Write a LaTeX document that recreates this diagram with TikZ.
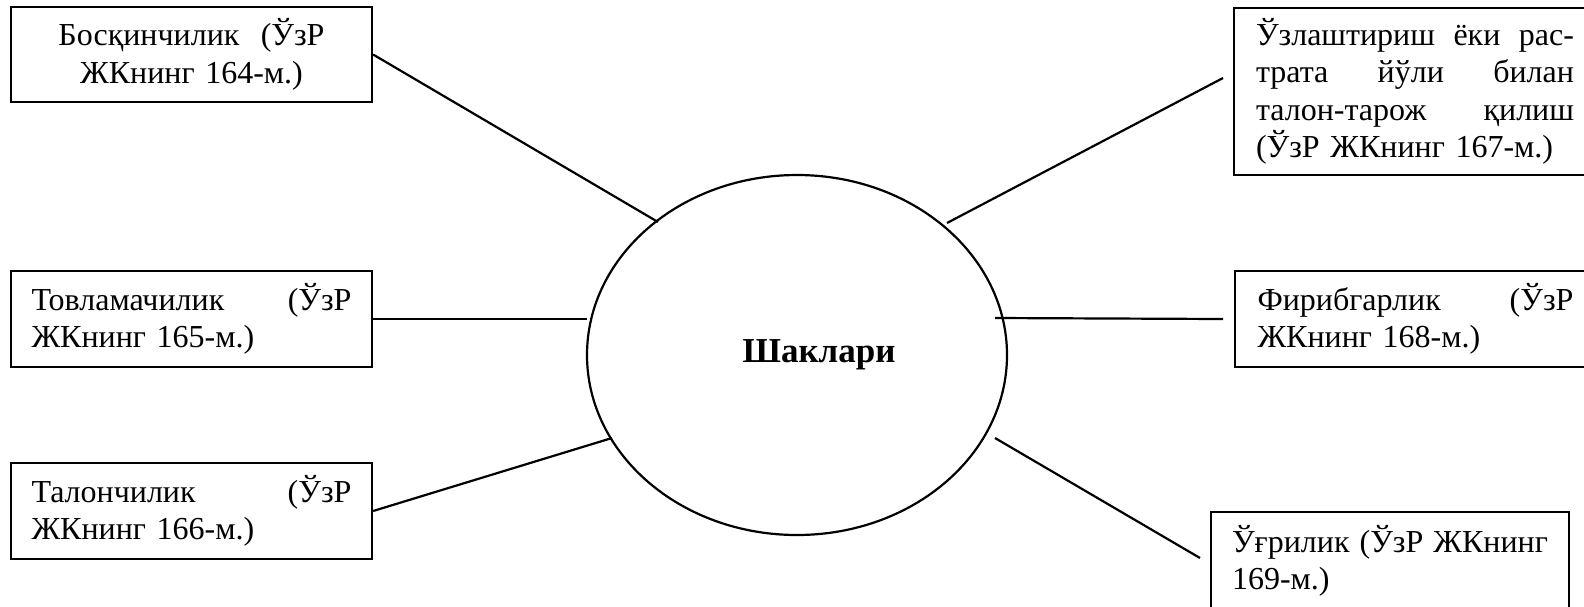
\documentclass[tikz,border=0pt]{standalone}
\usepackage{fontspec}
\setmainfont{Liberation Serif}
\usetikzlibrary{shapes.geometric}
\newcommand{\jl}[2]{\makebox[#1][l]{#2}}
\begin{document}
\begin{tikzpicture}[x=1pt,y=-1pt,
  every node/.style={font=\fontsize{32}{37.5}\selectfont},
  box/.style={draw, line width=2.2pt, rectangle, inner sep=0pt},
  link/.style={line width=2.2pt}]
\useasboundingbox (0,0) rectangle (1584,606);
\fill[white] (0,0) rectangle (1584,606);
% central ellipse
\node[draw, line width=2.2pt, ellipse, minimum width=420pt, minimum height=360pt, inner sep=0pt,
  font=\fontsize{35}{40}\selectfont\bfseries] (e) at (797,355)
  {\hspace*{44pt}Шаклари};
% boxes
\node[box, minimum width=361pt, minimum height=95pt, text width=319pt, align=center] (b1) at (191.5,54.5)
  {Босқинчилик\ \ (ЎзР\\ЖКнинг 164-м.)};
\node[box, minimum width=362pt, minimum height=167pt, text width=318pt, align=left] (b2) at (1415,91.5)
  {\jl{318pt}{Ўзлаштириш\hfill ёки\hfill рас-}\\\jl{318pt}{трата\hfill йўли\hfill билан}\\\jl{318pt}{талон-тарож\hfill қилиш}\\(ЎзР ЖКнинг 167-м.)};
\node[box, minimum width=361pt, minimum height=96pt, text width=320pt, align=left] (b3) at (191.5,319)
  {\jl{320pt}{Товламачилик\hfill (ЎзР}\\ЖКнинг 165-м.)};
\node[box, minimum width=361pt, minimum height=96pt, text width=320pt, align=left] (b4) at (191.5,511)
  {\jl{320pt}{Талончилик\hfill (ЎзР}\\ЖКнинг 166-м.)};
\node[box, minimum width=361pt, minimum height=96pt, text width=316pt, align=left] (b5) at (1415.5,319)
  {\jl{316pt}{Фирибгарлик\hfill (ЎзР}\\ЖКнинг 168-м.)};
\node[box, minimum width=358pt, minimum height=98pt, text width=316pt, align=left] (b6) at (1390,561)
  {\jl{316pt}{Ўғрилик\hfill (ЎзР\hfill ЖКнинг}\\169-м.)};
% connector ends
\coordinate (e1) at (658,222);
\coordinate (e2) at (947,223);
\coordinate (e3) at (587,319);
\coordinate (e4) at (612,438);
\coordinate (e5) at (995,318);
\coordinate (e6) at (995,438);
\coordinate (f2) at (1223,78);
\coordinate (f5) at (1223,319);
\coordinate (f6) at (1200,558);
% connectors
\draw[link] (b1.east) -- (e1);
\draw[link] (f2) -- (e2);
\draw[link] (b3.east) -- (e3);
\draw[link] (b4.east) -- (e4);
\draw[link] (e5) -- (f5);
\draw[link] (e6) -- (f6);
\end{tikzpicture}
\end{document}
